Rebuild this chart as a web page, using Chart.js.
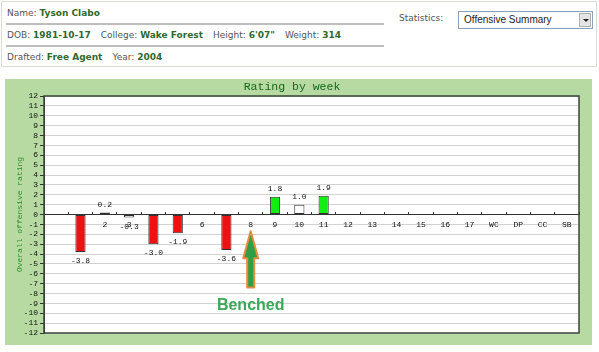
<!DOCTYPE html>
<html>
<head>
<meta charset="utf-8">
<script src="https://cdn.jsdelivr.net/npm/chart.js@4.4.0/dist/chart.umd.min.js"></script>
<style>
  body { margin: 0; background: #fff; width: 599px; height: 352px; overflow: hidden; position: relative; }
  #info { position: absolute; left: 1px; top: 1px; width: 594px; height: 64px; border: 1px solid #d8ddd4; background: #fff;
          font-family: "DejaVu Sans", sans-serif; font-size: 9px; color: #555; }
  .row { position: absolute; left: 5px; height: 12px; line-height: 12px; white-space: nowrap; }
  .row b { color: #2f6a2f; }
  .row span { margin-left: 10px; }
  .sep { position: absolute; left: 4px; width: 378px; height: 2px; background: #bdbdbd; }
  #statlbl { position: absolute; left: 397px; top: 10px; line-height: 12px; }
  #select { position: absolute; left: 456px; top: 9px; border: 1px solid #8aa0b8;
            font-family: "Liberation Sans", Arial, sans-serif; font-size: 10px; color: #222; line-height: 16px; padding-left: 5px; box-sizing: border-box; width: 135px; height: 18px; }
  #btn { position: absolute; right: 1px; top: 1px; width: 12px; height: 14px; background: #e4e4e4; border: 1px solid #b0b0b0; box-sizing: border-box; }
  #btn:after { content: ""; position: absolute; left: 3px; top: 5px; border-left: 3px solid transparent; border-right: 3px solid transparent; border-top: 3px solid #222; }
  #panel { position: absolute; left: 5px; top: 79px; width: 587px; height: 266px; background: #b6daa1; }
</style>
</head>
<body>
<div id="info">
  <div class="row" style="top:5px">Name: <b>Tyson Clabo</b></div>
  <div class="sep" style="top:21px"></div>
  <div class="row" style="top:27px">DOB: <b>1981-10-17</b><span>College: <b>Wake Forest</b></span><span>Height: <b>6'07"</b></span><span>Weight: <b>314</b></span></div>
  <div class="sep" style="top:43px"></div>
  <div class="row" style="top:49px">Drafted: <b>Free Agent</b><span>Year: <b>2004</b></span></div>
  <div id="statlbl">Statistics:</div>
  <div id="select">Offensive Summary<div id="btn"></div></div>
</div>
<div id="panel"><canvas id="chart" width="587" height="266"></canvas></div>
<script>
const weeks = ['', '1', '2', '3', '4', '5', '6', '7', '8', '9', '10', '11', '12', '13', '14', '15', '16', '17', 'WC', 'DP', 'CC', 'SB'];
const ratings = [null, -3.8, 0.2, -0.3, -3.0, -1.9, null, -3.6, null, 1.8, 1.0, 1.9, null, null, null, null, null, null, null, null, null, null];
const yMin = -12;
const yMax = 12;
// note pointing at the benched week
const noteWeek = '8';
const noteArrow = [-7.4, -1.7];
const noteText = 'Benched';
const noteTextAt = -9.2;

function barColor(v) {
    if (v >= 1.5) return '#11ee11';
    if (v <= -1.5) return '#ee1111';
    return '#ffffff';
}

const plotFrame = {
    id: 'plotFrame',
    beforeDraw(chart) {
        const a = chart.chartArea;
        chart.ctx.save();
        chart.ctx.fillStyle = '#fff';
        chart.ctx.fillRect(a.left, a.top, a.right - a.left, a.bottom - a.top);
        chart.ctx.restore();
    },
    afterDraw(chart) {
        const a = chart.chartArea;
        const ctx = chart.ctx;
        ctx.save();
        ctx.strokeStyle = '#3a4438';
        ctx.lineWidth = 1.5;
        ctx.strokeRect(a.left, a.top, a.right - a.left, a.bottom - a.top);
        ctx.restore();
    }
};

const valueLabels = {
    id: 'valueLabels',
    afterDatasetsDraw(chart) {
        const ctx = chart.ctx;
        const meta = chart.getDatasetMeta(0);
        ctx.save();
        ctx.font = '8px "Liberation Mono", monospace';
        ctx.fillStyle = '#111';
        ctx.textAlign = 'center';
        ctx.textBaseline = 'middle';
        meta.data.forEach((bar, i) => {
            const v = ratings[i];
            if (v === null) return;
            const y = v >= 0 ? bar.y - 8 : bar.y + 9;
            ctx.fillText(v.toFixed(1), bar.x, y);
        });
        ctx.restore();
    }
};

const benchNote = {
    id: 'benchNote',
    afterDraw(chart) {
        const xs = chart.scales.x;
        const ys = chart.scales.y;
        const ctx = chart.ctx;
        const x = xs.getPixelForValue(weeks.indexOf(noteWeek));
        const yBottom = ys.getPixelForValue(noteArrow[0]);
        const yTip = ys.getPixelForValue(noteArrow[1]);
        const headLen = 27;
        ctx.save();
        ctx.beginPath();
        ctx.moveTo(x, yTip);
        ctx.lineTo(x + 7.5, yTip + headLen);
        ctx.lineTo(x + 3.5, yTip + headLen);
        ctx.lineTo(x + 3.5, yBottom);
        ctx.lineTo(x - 3.5, yBottom);
        ctx.lineTo(x - 3.5, yTip + headLen);
        ctx.lineTo(x - 7.5, yTip + headLen);
        ctx.closePath();
        ctx.fillStyle = '#2f9f47';
        ctx.fill();
        ctx.strokeStyle = '#e8893c';
        ctx.lineWidth = 2;
        ctx.lineJoin = 'round';
        ctx.stroke();
        ctx.font = 'bold 16px "Liberation Sans", Arial, sans-serif';
        ctx.fillStyle = '#3aa858';
        ctx.textAlign = 'center';
        ctx.textBaseline = 'middle';
        ctx.fillText(noteText, x, ys.getPixelForValue(noteTextAt));
        ctx.restore();
    }
};

new Chart(document.getElementById('chart'), {
    type: 'bar',
    data: {
        labels: weeks,
        datasets: [{
            data: ratings,
            backgroundColor: ratings.map(v => barColor(v)),
            borderColor: '#333',
            borderWidth: 1,
            borderSkipped: false,
            barPercentage: 0.42,
            categoryPercentage: 1
        }]
    },
    options: {
        responsive: false,
        animation: false,
        layout: { padding: { left: 0, top: 0, right: 13, bottom: 12 } },
        plugins: {
            legend: { display: false },
            tooltip: { enabled: false },
            title: {
                display: true,
                text: 'Rating by week',
                color: '#17691a',
                font: { family: '"Liberation Mono", monospace', size: 11.5, weight: 'normal' },
                padding: { top: 1, bottom: 2.2 }
            }
        },
        scales: {
            x: {
                position: { y: 0 },
                z: 1,
                offset: true,
                grid: { display: true, offset: true, drawOnChartArea: false, color: '#333', tickLength: -3 },
                border: { display: true, color: '#333', width: 1 },
                ticks: {
                    autoSkip: false,
                    maxRotation: 0,
                    padding: 9,
                    color: '#111',
                    font: { family: '"Liberation Mono", monospace', size: 8 }
                }
            },
            y: {
                min: yMin,
                max: yMax,
                afterFit(scale) { scale.width = 39; },
                grid: { color: '#d2d2d2', tickColor: '#333', tickLength: 4 },
                border: { display: true, color: '#333' },
                ticks: {
                    stepSize: 1,
                    autoSkip: false,
                    padding: 2,
                    color: '#111',
                    font: { family: '"Liberation Mono", monospace', size: 8 }
                },
                title: {
                    display: true,
                    text: 'Overall offensive rating',
                    color: '#2c8a2c',
                    font: { family: '"Liberation Mono", monospace', size: 8 },
                    padding: { top: 10, bottom: 0 }
                }
            }
        }
    },
    plugins: [plotFrame, valueLabels, benchNote]
});
</script>
</body>
</html>
